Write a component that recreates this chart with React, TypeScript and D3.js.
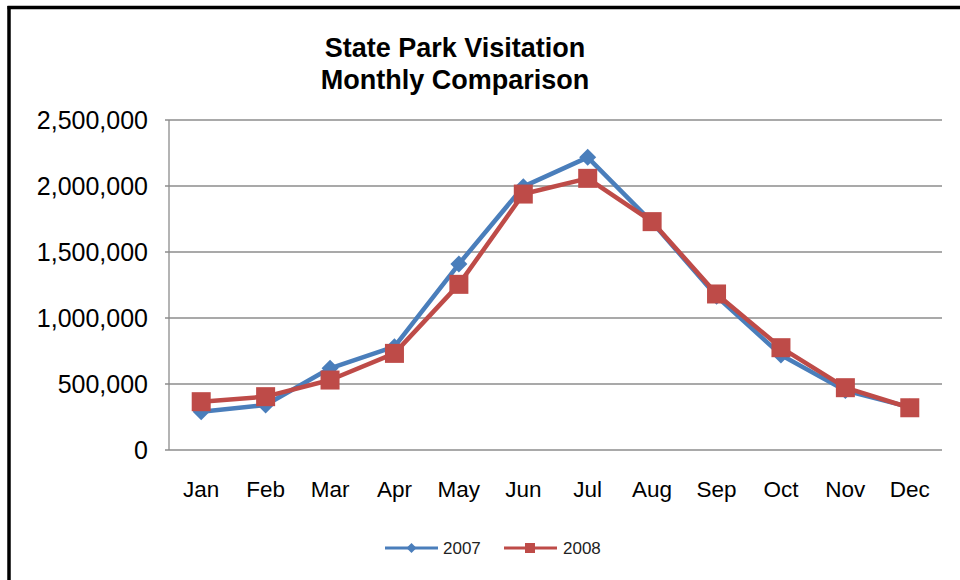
import React from "react";
import * as d3 from "d3";

const months = ["Jan", "Feb", "Mar", "Apr", "May", "Jun", "Jul", "Aug", "Sep", "Oct", "Nov", "Dec"];
const visits2007 = [290000, 341000, 619000, 783000, 1409000, 1995000, 2217000, 1725000, 1165000, 720000, 450000, 325000];
const visits2008 = [366000, 404000, 530000, 732000, 1255000, 1939000, 2058000, 1730000, 1182000, 775000, 472000, 320000];
const yTicks = [0, 500000, 1000000, 1500000, 2000000, 2500000];
const titleLines = ["State Park Visitation", "Monthly Comparison"];
const seriesNames = ["2007", "2008"];

const W = 960;
const H = 580;
const plot = { left: 169, right: 942, top: 120, bottom: 450 };
const BLUE = "#4a7ebb";
const RED = "#be4b48";
const FONT = "'Liberation Sans', Arial, sans-serif";

export default function App() {
  const x = d3.scaleBand<string>().domain(months).range([plot.left, plot.right]).padding(0);
  const y = d3.scaleLinear().domain([0, 2500000]).range([plot.bottom, plot.top]);
  const cx = (m: string) => (x(m) as number) + x.bandwidth() / 2;
  const line = d3
    .line<number>()
    .x((_, i) => cx(months[i]))
    .y((d) => y(d));
  const fmt = d3.format(",");

  const diamondPath = (s: number) => `M0,${-s}L${s},0L0,${s}L${-s},0Z`;

  return (
    <svg
      width={W}
      height={H}
      style={{ position: "fixed", left: 0, top: 0, background: "#fff" }}
      fontFamily={FONT}
    >
      <rect x={0} y={0} width={W} height={H} fill="#fff" />
      {/* frame */}
      <line x1={7.5} y1={7.5} x2={W} y2={7.5} stroke="#000" strokeWidth={3.5} />
      <line x1={9} y1={6} x2={9} y2={H} stroke="#000" strokeWidth={3.5} />

      {/* title */}
      <text x={455} y={57} textAnchor="middle" fontSize={27} fontWeight="bold" fill="#000">
        {titleLines[0]}
      </text>
      <text x={455} y={89} textAnchor="middle" fontSize={27} fontWeight="bold" fill="#000">
        {titleLines[1]}
      </text>

      {/* gridlines */}
      {yTicks.map((t) => (
        <line
          key={"g" + t}
          x1={plot.left - 4}
          x2={plot.right}
          y1={y(t)}
          y2={y(t)}
          stroke="#8c8c8c"
          strokeWidth={1.3}
        />
      ))}
      <line x1={plot.left} x2={plot.left} y1={plot.top} y2={plot.bottom} stroke="#8c8c8c" strokeWidth={1.3} />

      {/* y labels */}
      {yTicks.map((t) => (
        <text
          key={"yl" + t}
          x={148}
          y={y(t)}
          dy="0.35em"
          textAnchor="end"
          fontSize={25}
          fill="#000"
        >
          {fmt(t)}
        </text>
      ))}

      {/* x labels */}
      {months.map((m) => (
        <text key={"xl" + m} x={cx(m)} y={497} textAnchor="middle" fontSize={22.5} fill="#000">
          {m}
        </text>
      ))}

      {/* 2007 */}
      <path d={line(visits2007) as string} fill="none" stroke={BLUE} strokeWidth={4.5} strokeLinejoin="round" />
      {visits2007.map((v, i) => (
        <path key={"d" + i} d={diamondPath(8.5)} transform={`translate(${cx(months[i])},${y(v)})`} fill={BLUE} />
      ))}

      {/* 2008 */}
      <path d={line(visits2008) as string} fill="none" stroke={RED} strokeWidth={4.5} strokeLinejoin="round" />
      {visits2008.map((v, i) => (
        <rect key={"s" + i} x={cx(months[i]) - 9.5} y={y(v) - 9.5} width={19} height={19} fill={RED} />
      ))}

      {/* legend */}
      <line x1={385} x2={438} y1={548} y2={548} stroke={BLUE} strokeWidth={3} />
      <path d={diamondPath(5)} transform="translate(411.5,548)" fill={BLUE} />
      <text x={443} y={548} dy="0.35em" fontSize={17} fill="#222">
        {seriesNames[0]}
      </text>
      <line x1={504} x2={557} y1={548} y2={548} stroke={RED} strokeWidth={3} />
      <rect x={525} y={543} width={10} height={10} fill={RED} />
      <text x={563} y={548} dy="0.35em" fontSize={17} fill="#222">
        {seriesNames[1]}
      </text>
    </svg>
  );
}
